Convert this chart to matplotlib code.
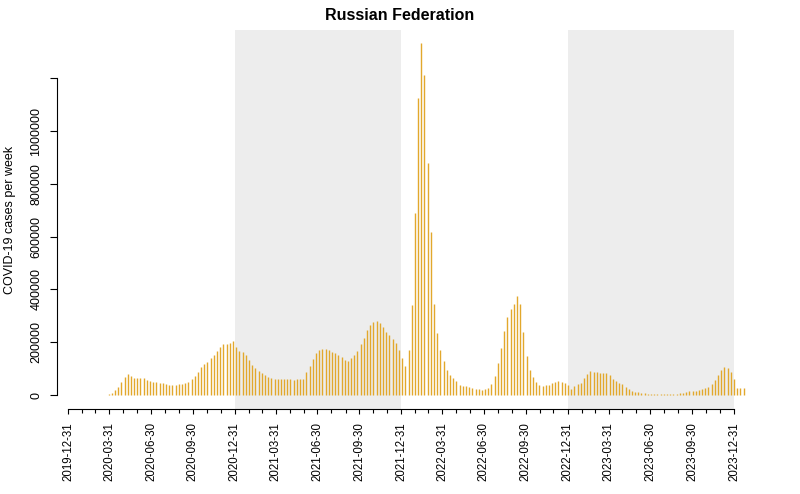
import matplotlib
matplotlib.use("Agg")
import matplotlib.pyplot as plt
import matplotlib.dates as mdates
import pandas as pd
import numpy as np

plt.rcParams['font.family'] = ['Liberation Sans', 'DejaVu Sans']

# ---------------- data ----------------
title = "Russian Federation"
ylabel = "COVID-19 cases per week"
first_week = "2020-01-05"

cases = [
    # 2020
    0, 0, 0, 0, 2, 0, 0, 0, 3, 10, 50, 300, 3000,
    9000, 20000, 32000, 48000, 68000, 78000, 71000,
    66000, 66000, 65000, 63000, 57000, 53000, 50000, 49000, 47000, 44000,
    41000, 39000, 38000, 38000, 40000, 42000, 44000, 50000, 61000, 73000,
    88000, 107000, 117000, 124000, 139000, 152000, 168000, 180000, 192000, 195000,
    196000,
    # 2021
    203000, 183000, 168000, 163000, 152000, 131000, 114000, 101000, 91000, 82000,
    75000, 68000, 64000, 62000, 61000, 61000, 61000, 60000, 60000, 57000,
    60000, 61000, 62000, 88000, 111000, 138000, 160000, 172000, 176000, 174000,
    169000, 164000, 159000, 152000, 145000, 134000, 129000, 139000, 152000, 165000,
    192000, 215000, 248000, 265000, 277000, 279000, 272000, 258000, 240000, 229000,
    214000, 197000, 172000, 139000, 111000, 170000,
    # 2022
    341000, 690000, 1124000, 1335000, 1212000, 878000, 619000, 345000, 236000, 171000,
    129000, 95000, 76000, 63000, 54000, 38000, 34000, 34000, 29000, 25000,
    23000, 21000, 19000, 21000, 25000, 42000, 72000, 120000, 177000, 242000,
    297000, 325000, 343000, 376000, 345000, 240000, 148000, 95000, 67000, 51000,
    38000, 35000, 36000, 38000, 44000, 51000, 53000, 51000, 45000, 38000,
    21000,
    # 2023 / early 2024
    34000, 40000, 47000, 63000, 78000, 92000, 88000, 88000, 85000, 85000,
    82000, 76000, 59000, 53000, 47000, 42000, 29000, 21000, 16000, 13000,
    10000, 7000, 6000, 5000, 5000, 5000, 4500, 4500, 4500, 5000, 5000, 5000, 5500, 6000,
    9000, 13000, 15000, 16000, 16000, 19000, 21000, 25000, 32000, 40000,
    57000, 76000, 95000, 107000, 101000, 88000, 59000, 27000, 27000, 27000,
]

shaded_periods = [("2020-12-31", "2021-12-31"), ("2022-12-31", "2023-12-31")]
major_tick_labels = ["2019-12-31", "2020-03-31", "2020-06-30", "2020-09-30",
                     "2020-12-31", "2021-03-31", "2021-06-30", "2021-09-30",
                     "2021-12-31", "2022-03-31", "2022-06-30", "2022-09-30",
                     "2022-12-31", "2023-03-31", "2023-06-30", "2023-09-30",
                     "2023-12-31"]
y_ticks = [0, 200000, 400000, 600000, 800000, 1000000, 1200000]
y_tick_labels = ["0", "200000", "400000", "600000", "800000", "1000000", ""]

# ---------------- plot ----------------
bar_color = "#E2A82C"
shade_color = "#EDEDED"

W, H = 800, 494
fig = plt.figure(figsize=(W / 100, H / 100), dpi=100)
ax = fig.add_axes([57 / W, (H - 409) / H, (748 - 57) / W, (409 - 30) / H])

dates = pd.date_range(first_week, periods=len(cases), freq="7D")
xd = mdates.date2num(dates)

axis_start = mdates.date2num(pd.Timestamp(major_tick_labels[0]))
axis_end = mdates.date2num(pd.Timestamp(major_tick_labels[-1]))
ppd = (734 - 68) / (axis_end - axis_start)
ax.set_xlim(axis_start - (68 - 57) / ppd, axis_start + (748 - 68) / ppd)

px_per_unit = 264 / 1e6
ax.set_ylim(-(409 - 395) / px_per_unit, (395 - 30) / px_per_unit)

for s, e in shaded_periods:
    ax.axvspan(mdates.date2num(pd.Timestamp(s)), mdates.date2num(pd.Timestamp(e)),
               color=shade_color, lw=0, zorder=0)

ax.vlines(xd, 0, cases, color=bar_color, lw=1.0, zorder=2)

# spines
for sp in ["top", "right"]:
    ax.spines[sp].set_visible(False)
ax.spines["left"].set_bounds(0, 1200000)
ax.spines["bottom"].set_bounds(axis_start, axis_end)
ax.spines["left"].set_linewidth(0.8)
ax.spines["bottom"].set_linewidth(0.8)

# y axis
ax.set_yticks(y_ticks)
ax.set_yticklabels(y_tick_labels, rotation=90, va="center", fontsize=9)
ax.tick_params(axis="y", length=5, width=0.8, pad=5.5)

# x axis
major = [mdates.date2num(pd.Timestamp(d)) for d in major_tick_labels]
minor = mdates.date2num(pd.date_range(major_tick_labels[0], major_tick_labels[-1], freq="ME"))
ax.set_xticks(major)
ax.set_xticklabels(major_tick_labels, rotation=90, ha="center", va="top", fontsize=8.3)
ax.set_xticks(minor, minor=True)
ax.tick_params(axis="x", which="major", length=3.6, width=0.8, pad=6.0)
ax.tick_params(axis="x", which="minor", length=2.6, width=0.8)

fig.text(400 / W, 1 - 16 / H, title, ha="center", va="center",
         fontsize=11.5, fontweight="bold")
fig.text(10 / W, 1 - 220 / H, ylabel, ha="center", va="center",
         rotation=90, fontsize=9)

fig.savefig("out.png", dpi=100)
